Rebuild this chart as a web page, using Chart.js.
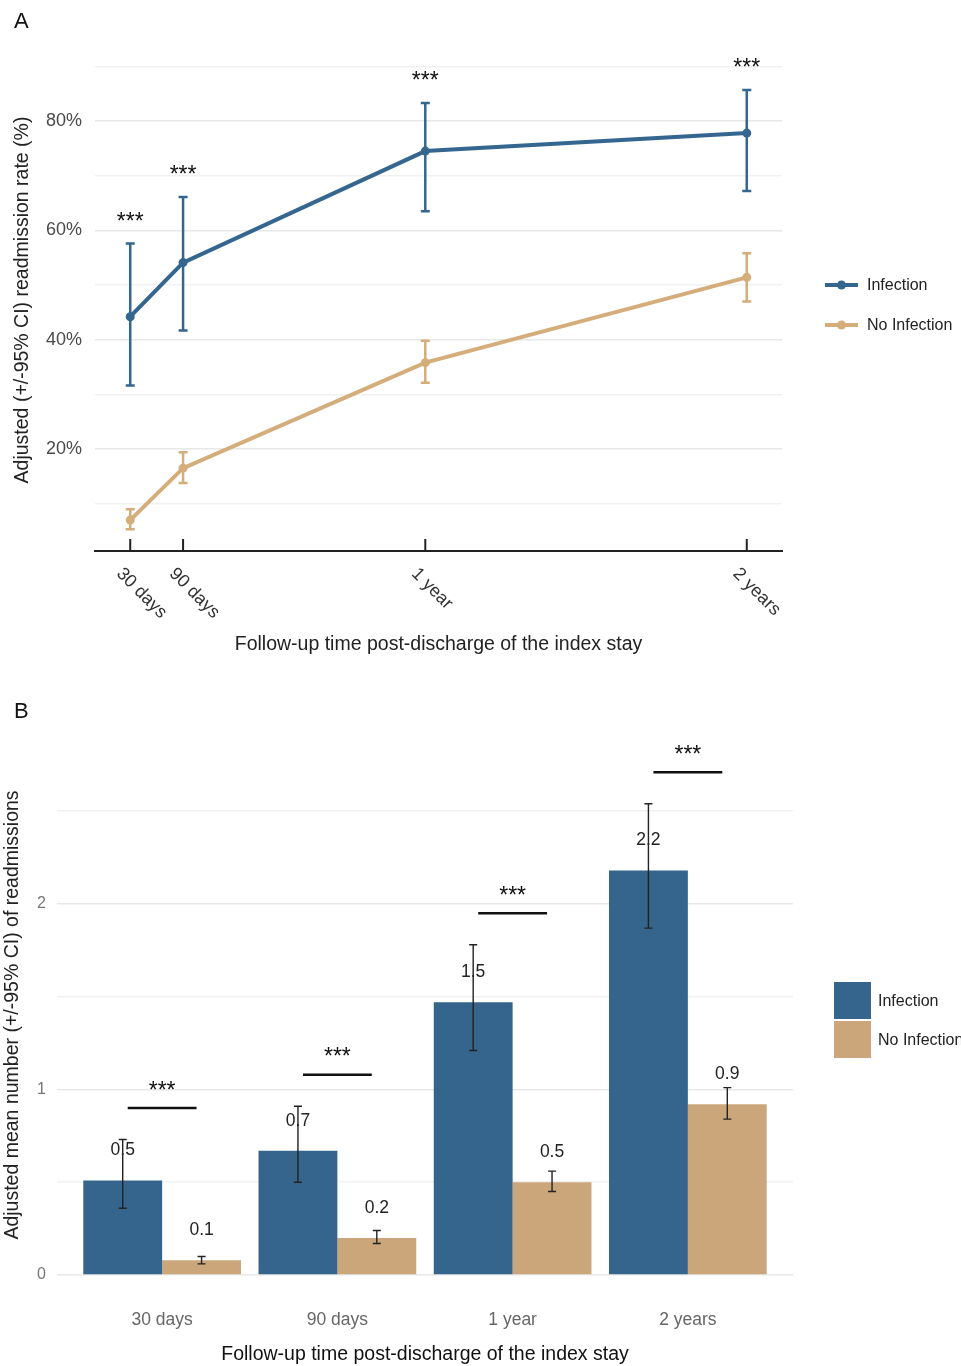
<!DOCTYPE html>
<html>
<head>
<meta charset="utf-8">
<script src="https://cdn.jsdelivr.net/npm/chart.js@4.4.1/dist/chart.umd.min.js"></script>
<style>
  html, body { margin: 0; padding: 0; background: #ffffff; }
  body { width: 961px; height: 1366px; position: relative; overflow: hidden; }
  canvas { position: absolute; left: 0; }
  #rateChart { top: 0; }
  #countChart { top: 680px; }
</style>
</head>
<body>
<canvas id="rateChart" width="961" height="680"></canvas>
<canvas id="countChart" width="961" height="686"></canvas>
<script>
// Follow-up time points
const timeLabels = ['30 days', '90 days', '1 year', '2 years'];
const timeDays = [30, 90, 365, 730];

// Panel A: adjusted readmission rate (%) with 95% CI
const rateInfection = [44.2, 54.1, 74.5, 77.8];
const rateInfectionLow = [31.6, 41.7, 63.5, 67.2];
const rateInfectionHigh = [57.6, 66.1, 83.3, 85.7];
const rateNoInfection = [7.0, 16.5, 35.8, 51.4];
const rateNoInfectionLow = [5.3, 13.8, 32.1, 47.0];
const rateNoInfectionHigh = [9.0, 19.4, 39.8, 55.8];
const rateTicks = [10, 20, 30, 40, 50, 60, 70, 80, 90];
const rateSignif = ['***', '***', '***', '***'];

// Panel B: adjusted mean number of readmissions with 95% CI
const countInfection = [0.51, 0.67, 1.47, 2.18];
const countInfectionLow = [0.36, 0.50, 1.21, 1.87];
const countInfectionHigh = [0.73, 0.91, 1.78, 2.54];
const countNoInfection = [0.08, 0.20, 0.50, 0.92];
const countNoInfectionLow = [0.06, 0.17, 0.45, 0.84];
const countNoInfectionHigh = [0.10, 0.24, 0.56, 1.01];
const countTicks = [0, 0.5, 1, 1.5, 2, 2.5];
const countSignif = ['***', '***', '***', '***'];

const seriesNames = ['Infection', 'No Infection'];
const xTitle = 'Follow-up time post-discharge of the index stay';
const rateTitle = 'Adjusted (+/-95% CI) readmission rate (%)';
const countTitle = 'Adjusted mean number (+/-95% CI) of readmissions';

const FONT = '"Liberation Sans", Arial, Helvetica, sans-serif';
Chart.defaults.font.family = FONT;
Chart.defaults.color = '#333';

const LINE_BLUE = '#34668f';
const LINE_TAN = '#d4ad7b';
const BAR_BLUE = '#35648c';
const BAR_TAN = '#cba67a';

// centre a glyph run vertically on y using its real ink box
function drawCentered(ctx, text, x, y, font, color) {
  ctx.save();
  ctx.font = font;
  ctx.fillStyle = color;
  ctx.textAlign = 'center';
  ctx.textBaseline = 'alphabetic';
  const m = ctx.measureText(text);
  ctx.fillText(text, x, y + (m.actualBoundingBoxAscent - m.actualBoundingBoxDescent) / 2);
  ctx.restore();
}

// vertical axis title, reading bottom to top
function drawYTitle(ctx, text, x, y, size) {
  ctx.save();
  ctx.translate(x, y);
  ctx.rotate(-Math.PI / 2);
  ctx.font = size + 'px ' + FONT;
  ctx.fillStyle = '#222';
  ctx.textAlign = 'center';
  ctx.textBaseline = 'middle';
  ctx.fillText(text, 0, 0);
  ctx.restore();
}

function toPoints(xs, ys) {
  return xs.map((x, i) => ({ x: x, y: ys[i] }));
}

// ---------- Panel A ----------
const rateDecor = {
  id: 'rateDecor',
  beforeDatasetsDraw(chart) {
    const ctx = chart.ctx;
    const xs = chart.scales.x, ys = chart.scales.y;
    const bands = [
      [rateInfectionLow, rateInfectionHigh, LINE_BLUE],
      [rateNoInfectionLow, rateNoInfectionHigh, LINE_TAN]
    ];
    ctx.save();
    ctx.lineWidth = 2.5;
    bands.forEach(([lo, hi, color]) => {
      ctx.strokeStyle = color;
      timeDays.forEach((d, i) => {
        const x = xs.getPixelForValue(d);
        const y1 = ys.getPixelForValue(lo[i]);
        const y2 = ys.getPixelForValue(hi[i]);
        ctx.beginPath();
        ctx.moveTo(x, y1); ctx.lineTo(x, y2);
        ctx.moveTo(x - 4.5, y1); ctx.lineTo(x + 4.5, y1);
        ctx.moveTo(x - 4.5, y2); ctx.lineTo(x + 4.5, y2);
        ctx.stroke();
      });
    });
    ctx.restore();
  },
  afterDraw(chart) {
    const ctx = chart.ctx;
    const xs = chart.scales.x, ys = chart.scales.y;
    const area = chart.chartArea;
    ctx.save();
    // axis ticks (pointing into the panel) and slanted labels
    ctx.strokeStyle = '#222';
    ctx.lineWidth = 2;
    ctx.fillStyle = '#333';
    ctx.font = '18px ' + FONT;
    ctx.textAlign = 'left';
    ctx.textBaseline = 'middle';
    timeDays.forEach((d, i) => {
      const x = xs.getPixelForValue(d);
      ctx.beginPath();
      ctx.moveTo(x, area.bottom);
      ctx.lineTo(x, area.bottom - 12);
      ctx.stroke();
      ctx.save();
      ctx.translate(x - 11, area.bottom + 20);
      ctx.rotate(Math.PI / 4);
      ctx.fillText(timeLabels[i], 0, 0);
      ctx.restore();
    });
    // significance marks above the infection CI
    timeDays.forEach((d, i) => {
      const x = xs.getPixelForValue(d);
      const y = ys.getPixelForValue(rateInfectionHigh[i] + 5);
      drawCentered(ctx, rateSignif[i], x, y, '23px ' + FONT, '#111');
    });
    // legend
    const colors = [LINE_BLUE, LINE_TAN];
    [285, 325].forEach((y, k) => {
      ctx.strokeStyle = colors[k];
      ctx.fillStyle = colors[k];
      ctx.lineWidth = 4;
      ctx.beginPath();
      ctx.moveTo(825, y); ctx.lineTo(858, y);
      ctx.stroke();
      ctx.beginPath();
      ctx.arc(841.5, y, 4.5, 0, Math.PI * 2);
      ctx.fill();
      ctx.fillStyle = '#222';
      ctx.font = '16px ' + FONT;
      ctx.textAlign = 'left';
      ctx.textBaseline = 'middle';
      ctx.fillText(seriesNames[k], 867, y + 1);
    });
    drawYTitle(ctx, rateTitle, 23, 300, 19.5);
    // panel letter
    ctx.fillStyle = '#111';
    ctx.font = '22px ' + FONT;
    ctx.textAlign = 'left';
    ctx.textBaseline = 'middle';
    ctx.fillText('A', 14, 22);
    ctx.restore();
  }
};

new Chart(document.getElementById('rateChart'), {
  type: 'line',
  data: {
    datasets: [
      {
        label: seriesNames[0],
        data: toPoints(timeDays, rateInfection),
        borderColor: LINE_BLUE,
        backgroundColor: LINE_BLUE,
        borderWidth: 4,
        pointRadius: 4.5,
        pointBorderWidth: 0,
        pointBackgroundColor: LINE_BLUE,
        tension: 0
      },
      {
        label: seriesNames[1],
        data: toPoints(timeDays, rateNoInfection),
        borderColor: LINE_TAN,
        backgroundColor: LINE_TAN,
        borderWidth: 4,
        pointRadius: 4.5,
        pointBorderWidth: 0,
        pointBackgroundColor: LINE_TAN,
        tension: 0
      }
    ]
  },
  options: {
    responsive: false,
    animation: false,
    devicePixelRatio: 1,
    layout: { padding: { left: 0, right: 179, top: 62, bottom: 0 } },
    plugins: { legend: { display: false }, tooltip: { enabled: false } },
    scales: {
      x: {
        type: 'linear',
        min: -10,
        max: 770,
        afterBuildTicks: (s) => { s.ticks = timeDays.map(v => ({ value: v })); },
        afterFit: (s) => { s.height = 129; },
        grid: { display: false, drawTicks: false },
        border: { display: true, color: '#222', width: 2 },
        ticks: { display: false },
        title: {
          display: true,
          text: xTitle,
          font: { size: 19.5 },
          color: '#222',
          padding: { top: 0, bottom: 24 }
        }
      },
      y: {
        min: 1.34,
        max: 90.8,
        afterBuildTicks: (s) => { s.ticks = rateTicks.map(v => ({ value: v })); },
        afterFit: (s) => { s.width = 95; },
        grid: {
          drawTicks: false,
          color: (c) => (c.tick && c.tick.value % 20 === 0) ? '#e8e8e8' : '#f1f1f1',
          lineWidth: 1.5
        },
        border: { display: false },
        ticks: {
          padding: 13,
          font: { size: 18 },
          color: '#4a4a4a',
          callback: (v) => (v % 20 === 0 ? v + '%' : '')
        },
        title: { display: false }
      }
    }
  },
  plugins: [rateDecor]
});

// ---------- Panel B ----------
const countDecor = {
  id: 'countDecor',
  afterDatasetsDraw(chart) {
    const ctx = chart.ctx;
    const ys = chart.scales.y;
    const groups = [
      [countInfection, countInfectionLow, countInfectionHigh],
      [countNoInfection, countNoInfectionLow, countNoInfectionHigh]
    ];
    ctx.save();
    groups.forEach(([vals, lo, hi], di) => {
      const meta = chart.getDatasetMeta(di);
      meta.data.forEach((bar, i) => {
        const x = bar.x;
        const y1 = ys.getPixelForValue(lo[i]);
        const y2 = ys.getPixelForValue(hi[i]);
        ctx.strokeStyle = '#222';
        ctx.lineWidth = 1.4;
        ctx.beginPath();
        ctx.moveTo(x, y1); ctx.lineTo(x, y2);
        ctx.moveTo(x - 4, y1); ctx.lineTo(x + 4, y1);
        ctx.moveTo(x - 4, y2); ctx.lineTo(x + 4, y2);
        ctx.stroke();
        // value label
        ctx.fillStyle = '#222';
        ctx.font = '17.5px ' + FONT;
        ctx.textAlign = 'center';
        ctx.textBaseline = 'middle';
        ctx.fillText(vals[i].toFixed(1), x, ys.getPixelForValue(vals[i]) - 30);
      });
    });
    // significance brackets
    const inf = chart.getDatasetMeta(0).data;
    const noInf = chart.getDatasetMeta(1).data;
    inf.forEach((bar, i) => {
      const y = ys.getPixelForValue(countInfectionHigh[i] + 0.17);
      ctx.strokeStyle = '#111';
      ctx.lineWidth = 2.5;
      ctx.beginPath();
      ctx.moveTo(bar.x + 5, y);
      ctx.lineTo(noInf[i].x - 5, y);
      ctx.stroke();
      drawCentered(ctx, countSignif[i], (bar.x + noInf[i].x) / 2, y - 23, '23px ' + FONT, '#111');
    });
    ctx.restore();
  },
  afterDraw(chart) {
    const ctx = chart.ctx;
    ctx.save();
    const colors = [BAR_BLUE, BAR_TAN];
    [302, 341].forEach((y, k) => {
      ctx.fillStyle = colors[k];
      ctx.fillRect(834, y, 37, 37);
      ctx.fillStyle = '#222';
      ctx.font = '16px ' + FONT;
      ctx.textAlign = 'left';
      ctx.textBaseline = 'middle';
      ctx.fillText(seriesNames[k], 878, y + 20);
    });
    drawYTitle(ctx, countTitle, 13, 335, 19.5);
    ctx.fillStyle = '#111';
    ctx.font = '22px ' + FONT;
    ctx.textAlign = 'left';
    ctx.textBaseline = 'middle';
    ctx.fillText('B', 14, 32);
    ctx.restore();
  }
};

const groupPos = timeLabels.map((_, i) => i + 1);

new Chart(document.getElementById('countChart'), {
  type: 'bar',
  data: {
    datasets: [
      {
        label: seriesNames[0],
        data: toPoints(groupPos, countInfection),
        backgroundColor: BAR_BLUE,
        borderWidth: 0,
        categoryPercentage: 0.9,
        barPercentage: 1.0
      },
      {
        label: seriesNames[1],
        data: toPoints(groupPos, countNoInfection),
        backgroundColor: BAR_TAN,
        borderWidth: 0,
        categoryPercentage: 0.9,
        barPercentage: 1.0
      }
    ]
  },
  options: {
    responsive: false,
    animation: false,
    devicePixelRatio: 1,
    layout: { padding: { left: 0, right: 168, top: 57, bottom: 0 } },
    plugins: { legend: { display: false }, tooltip: { enabled: false } },
    scales: {
      x: {
        type: 'linear',
        offset: false,
        min: 0.4,
        max: 4.6,
        afterBuildTicks: (s) => { s.ticks = groupPos.map(v => ({ value: v })); },
        afterFit: (s) => { s.height = 91; },
        grid: { display: false, drawTicks: false, offset: false },
        border: { display: false },
        ticks: {
          padding: 35,
          font: { size: 17.5 },
          color: '#666',
          maxRotation: 0,
          autoSkip: false,
          callback: (v, i) => timeLabels[i]
        },
        title: {
          display: true,
          text: xTitle,
          font: { size: 19.5 },
          color: '#111',
          padding: { top: 0, bottom: 0 }
        }
      },
      y: {
        min: 0,
        max: 2.9,
        afterBuildTicks: (s) => { s.ticks = countTicks.map(v => ({ value: v })); },
        afterFit: (s) => { s.width = 57; },
        grid: {
          drawTicks: false,
          color: (c) => (c.tick && Number.isInteger(c.tick.value)) ? '#e8e8e8' : '#f1f1f1',
          lineWidth: 1.5
        },
        border: { display: false },
        ticks: {
          padding: 11,
          font: { size: 16 },
          color: '#777',
          callback: (v) => (Number.isInteger(v) ? String(v) : '')
        },
        title: { display: false }
      }
    }
  },
  plugins: [countDecor]
});
</script>
</body>
</html>
